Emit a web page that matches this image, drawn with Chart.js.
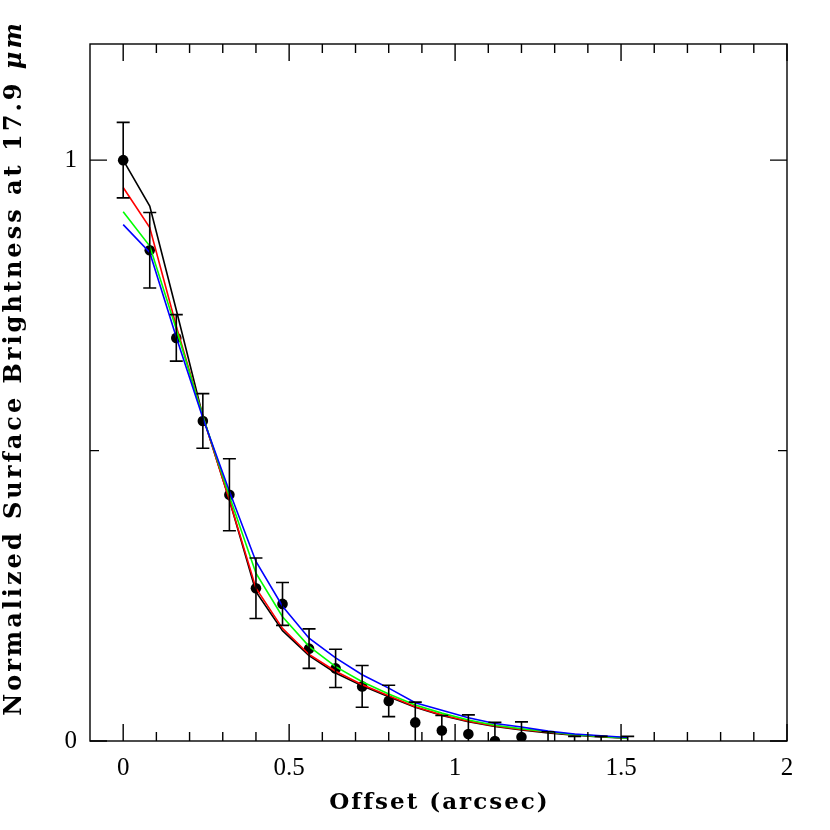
<!DOCTYPE html>
<html><head><meta charset="utf-8">
<script src="https://cdn.jsdelivr.net/npm/chart.js@4.4.1/dist/chart.umd.min.js"></script>
<style>html,body{margin:0;padding:0;background:#fff}#wrap{width:830px;height:830px}</style>
</head><body><div id="wrap"><canvas id="c" width="830" height="830"></canvas></div>
<script>
const offsets = [0,0.08,0.16,0.24,0.32,0.40,0.48,0.56,0.64,0.72,0.80,0.88,0.96,1.04,1.12,1.20,1.28,1.36,1.44,1.52];
const observed = [1.0,0.845,0.694,0.551,0.424,0.263,0.236,0.159,0.125,0.094,0.069,0.032,0.018,0.012,0.0,0.007,-0.010,-0.012,-0.012,-0.012];
const observedErr = [0.065,0.065,0.040,0.047,0.062,0.052,0.037,0.034,0.033,0.036,0.027,0.035,0.026,0.033,0.032,0.026,0.026,0.020,0.020,0.020];
const modelBlack = [1.0,0.921,0.742,0.559,0.415,0.257,0.190,0.147,0.117,0.095,0.076,0.058,0.044,0.033,0.025,0.019,0.014,0.010,0.007,0.005];
const modelRed   = [0.953,0.884,0.714,0.559,0.415,0.263,0.194,0.149,0.120,0.097,0.078,0.059,0.045,0.034,0.026,0.020,0.015,0.011,0.008,0.005];
const modelGreen = [0.911,0.852,0.709,0.559,0.422,0.289,0.214,0.163,0.128,0.102,0.081,0.062,0.048,0.036,0.027,0.021,0.016,0.011,0.008,0.005];
const modelBlue  = [0.889,0.841,0.695,0.556,0.430,0.309,0.232,0.177,0.143,0.114,0.091,0.066,0.053,0.040,0.030,0.024,0.017,0.012,0.009,0.006];
const xMajorTicks = [0,0.5,1,1.5,2];
const xMinorTicks = [0.1,0.2,0.3,0.4,0.6,0.7,0.8,0.9,1.1,1.2,1.3,1.4,1.6,1.7,1.8,1.9];
const yMajorTicks = [0,1];
const yMinorTicks = [0.5];
const xTitle = 'Offset (arcsec)';
const yTitle = 'Normalized Surface Brightness at 17.9 ';
const yTitleUnit = 'μm';

const pts = arr => offsets.map((x,i)=>({x:x,y:arr[i]}));

const errorBars = {
  id:'errorBars',
  afterDatasetsDraw(chart){
    const ctx=chart.ctx, xs=chart.scales.x, ys=chart.scales.y, a=chart.chartArea;
    ctx.save();
    ctx.beginPath(); ctx.rect(a.left,a.top,a.right-a.left,a.bottom-a.top); ctx.clip();
    ctx.strokeStyle='#000'; ctx.lineWidth=1.6;
    offsets.forEach((x,i)=>{
      const px=xs.getPixelForValue(x);
      const t=ys.getPixelForValue(observed[i]+observedErr[i]);
      const b=ys.getPixelForValue(observed[i]-observedErr[i]);
      ctx.beginPath();
      ctx.moveTo(px,t);ctx.lineTo(px,b);
      ctx.moveTo(px-6.5,t);ctx.lineTo(px+6.5,t);
      ctx.moveTo(px-6.5,b);ctx.lineTo(px+6.5,b);
      ctx.stroke();
    });
    ctx.restore();
  }
};

const frameTicks = {
  id:'frameTicks',
  afterDraw(chart){
    const ctx=chart.ctx, xs=chart.scales.x, ys=chart.scales.y, a=chart.chartArea;
    ctx.save();
    ctx.strokeStyle='#000'; ctx.lineWidth=1.4;
    ctx.strokeRect(a.left,a.top,a.right-a.left,a.bottom-a.top);
    ctx.beginPath();
    const tx=(v,len)=>{const p=xs.getPixelForValue(v);ctx.moveTo(p,a.bottom);ctx.lineTo(p,a.bottom-len);ctx.moveTo(p,a.top);ctx.lineTo(p,a.top+len);};
    const ty=(v,len)=>{const p=ys.getPixelForValue(v);ctx.moveTo(a.left,p);ctx.lineTo(a.left+len,p);ctx.moveTo(a.right,p);ctx.lineTo(a.right-len,p);};
    xMajorTicks.forEach(v=>tx(v,17));
    xMinorTicks.forEach(v=>tx(v,9));
    yMajorTicks.forEach(v=>ty(v,17));
    yMinorTicks.forEach(v=>ty(v,9));
    ctx.stroke();
    ctx.fillStyle='#000';
    ctx.textBaseline='middle';
    // x title
    ctx.font='bold 23px "DejaVu Serif"';
    ctx.letterSpacing='2px';
    ctx.textAlign='center';
    ctx.fillText(xTitle,(a.left+a.right)/2+1,803);
    // y title with italic unit
    ctx.translate(15,368);
    ctx.rotate(-Math.PI/2);
    ctx.letterSpacing='3px';
    ctx.textAlign='left';
    ctx.font='bold 24px "DejaVu Serif"';
    const w1=ctx.measureText(yTitle).width;
    ctx.font='italic bold 24px "DejaVu Serif"';
    const w2=ctx.measureText(yTitleUnit).width;
    ctx.font='bold 24px "DejaVu Serif"';
    ctx.fillText(yTitle,-(w1+w2)/2,0);
    ctx.font='italic bold 24px "DejaVu Serif"';
    ctx.fillText(yTitleUnit,-(w1+w2)/2+w1,0);
    ctx.restore();
  }
};

new Chart(document.getElementById('c'),{
  type:'scatter',
  data:{datasets:[
    {type:'line',data:pts(modelBlue),borderColor:'#0000ff',borderWidth:1.6,pointRadius:0,tension:0,fill:false},
    {type:'line',data:pts(modelGreen),borderColor:'#00ff00',borderWidth:1.6,pointRadius:0,tension:0,fill:false},
    {type:'line',data:pts(modelRed),borderColor:'#ff0000',borderWidth:1.6,pointRadius:0,tension:0,fill:false},
    {type:'line',data:pts(modelBlack),borderColor:'#000000',borderWidth:1.6,pointRadius:0,tension:0,fill:false},
    {type:'scatter',data:pts(observed),backgroundColor:'#000',borderColor:'#000',pointRadius:5.3,borderWidth:0}
  ]},
  options:{
    responsive:false,animation:false,
    layout:{padding:{top:44,right:43,left:0,bottom:0}},
    plugins:{legend:{display:false},tooltip:{enabled:false}},
    scales:{
      x:{type:'linear',min:-0.1,max:2,
        grid:{display:false,drawTicks:false},border:{display:false},
        afterBuildTicks(s){s.ticks=xMajorTicks.map(v=>({value:v}));},
        afterFit(s){s.height=89;},
        ticks:{color:'#000',font:{family:'"Liberation Serif"',size:25},padding:12,maxRotation:0,autoSkip:false,
          callback:v=>String(v)}
      },
      y:{type:'linear',min:0,max:1.2,
        grid:{display:false,drawTicks:false},border:{display:false},
        afterBuildTicks(s){s.ticks=yMajorTicks.map(v=>({value:v}));},
        afterFit(s){s.width=90;},
        ticks:{color:'#000',font:{family:'"Liberation Serif"',size:25},padding:13,autoSkip:false,
          callback:v=>String(v)}
      }
    }
  },
  plugins:[errorBars,frameTicks]
});
</script></body></html>
